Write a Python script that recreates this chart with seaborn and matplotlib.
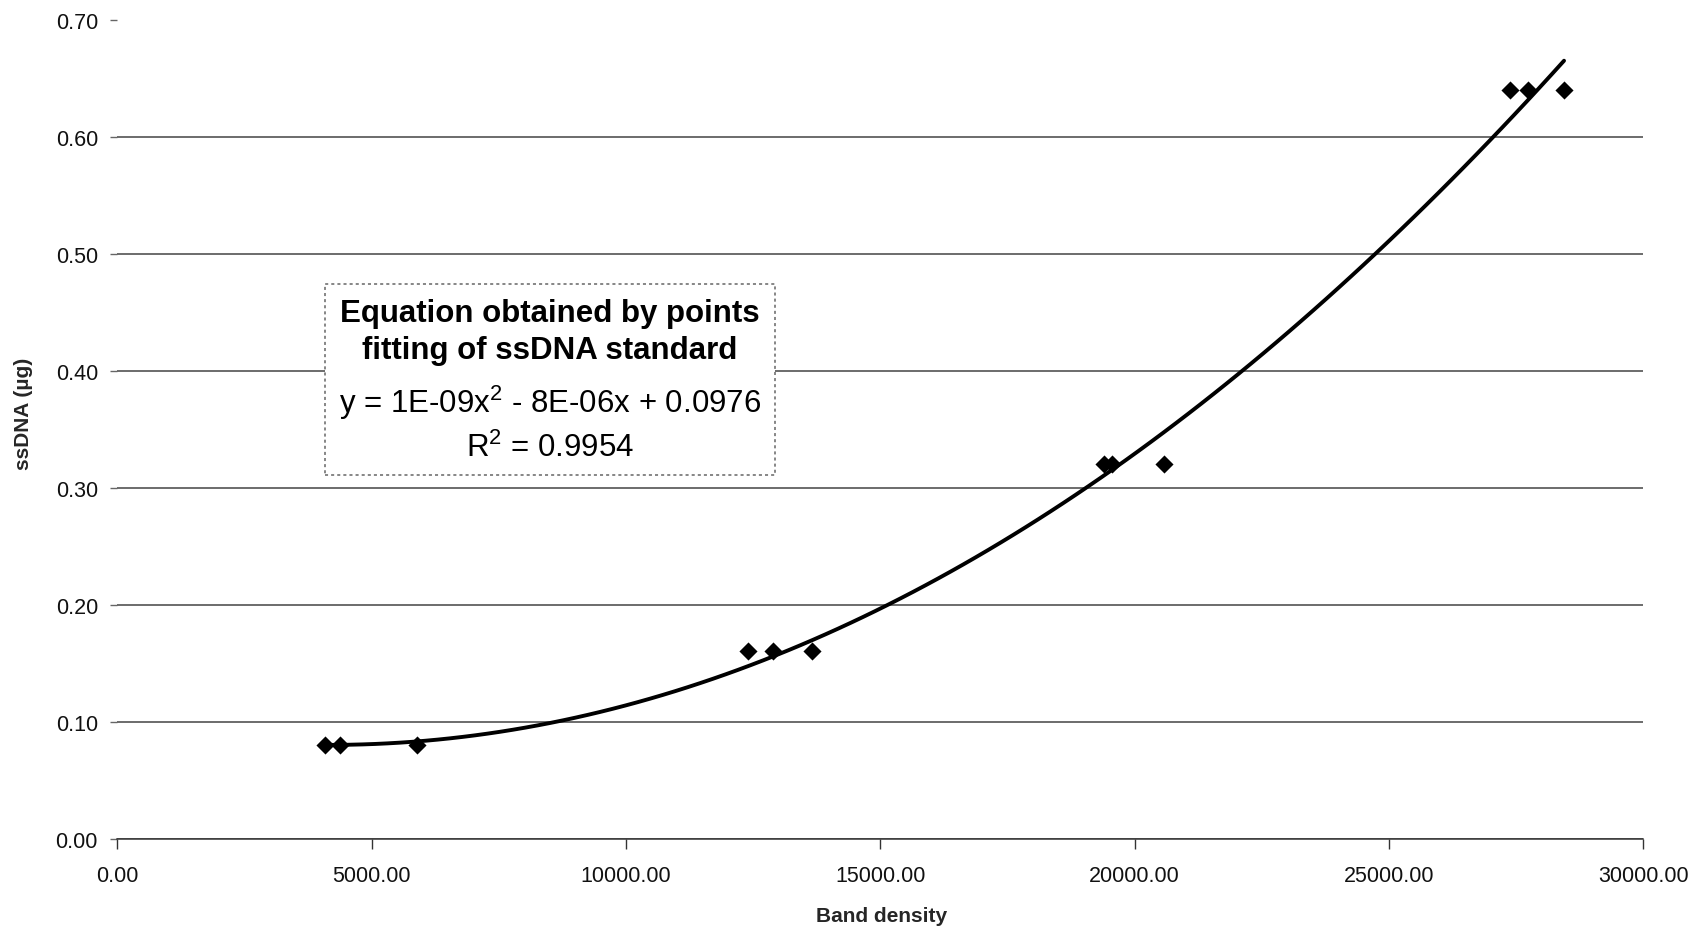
import numpy as np
import pandas as pd
import matplotlib
matplotlib.use("Agg")
import matplotlib.pyplot as plt
from matplotlib.patches import Rectangle
import seaborn as sns

# ---- data ----
band_density = [4080, 4380, 5890, 12400, 12880, 13660, 19390, 19560, 20580, 27370, 27740, 28440]
ssdna_ug = [0.08, 0.08, 0.08, 0.16, 0.16, 0.16, 0.32, 0.32, 0.32, 0.64, 0.64, 0.64]
x_ticks = [0, 5000, 10000, 15000, 20000, 25000, 30000]
y_ticks = [0.0, 0.1, 0.2, 0.3, 0.4, 0.5, 0.6, 0.7]
x_label = "Band density"
y_label = "ssDNA (µg)"
box_lines = ["Equation obtained by points", "fitting of ssDNA standard",
             "y = 1E-09x$^{2}$ - 8E-06x + 0.0976", "R$^{2}$ = 0.9954"]

df = pd.DataFrame({"x": band_density, "y": ssdna_ug})

sns.set_style("white")
plt.rcParams["font.family"] = ["Liberation Sans", "DejaVu Sans"]
plt.rcParams["mathtext.fontset"] = "custom"
plt.rcParams["mathtext.rm"] = "Liberation Sans"
plt.rcParams["mathtext.it"] = "Liberation Sans:italic"
plt.rcParams["mathtext.bf"] = "Liberation Sans:bold"

fig = plt.figure(figsize=(17.03, 9.29), dpi=100)
ax = fig.add_axes([0.0689, 0.0962, 0.8961, 0.8816])

sns.regplot(data=df, x="x", y="y", order=2, ci=None, marker="D", color="black",
            scatter_kws={"s": 85, "alpha": 1.0, "edgecolors": "black", "linewidths": 0, "zorder": 4},
            line_kws={"lw": 2.8, "color": "black", "zorder": 5}, ax=ax)

ax.set_xlim(0, 30000)
ax.set_ylim(0, 0.7)
ax.set_xticks(x_ticks)
ax.set_yticks(y_ticks)
ax.set_xticklabels([f"{v:.2f}" for v in x_ticks])
ax.set_yticklabels([f"{v:.2f}" for v in y_ticks])
ax.tick_params(axis="both", labelsize=15.5, colors="#111111")
ax.tick_params(axis="x", direction="out", length=7, width=1, pad=12, color="#333333", bottom=True)
ax.tick_params(axis="y", direction="out", length=5, width=1, pad=9, color="#666666", left=True)

ax.set_xlabel(x_label, fontsize=15, fontweight="bold")
ax.set_ylabel(y_label, fontsize=15, fontweight="bold")
ax.yaxis.set_label_coords(-0.055, 0.52)
ax.xaxis.set_label_coords(0.501, -0.082)

for s in ["top", "right", "left"]:
    ax.spines[s].set_visible(False)
ax.spines["bottom"].set_color("#333333")
ax.spines["bottom"].set_linewidth(1.1)

ax.yaxis.grid(True, color="#444444", linewidth=1.1)
ax.xaxis.grid(False)
ax.get_ygridlines()[-1].set_visible(False)
ax.set_axisbelow(True)

# annotation box
rect = Rectangle((0.136, 0.444), 0.431 - 0.136, 0.677 - 0.444, transform=ax.transAxes,
                 facecolor="white", edgecolor="#666666", linestyle=(0, (2, 2)), lw=1.1, zorder=3)
ax.add_patch(rect)
ys = [0.642, 0.597, 0.533, 0.478]
for i, (t, yy) in enumerate(zip(box_lines, ys)):
    ax.text(0.2835, yy, t, transform=ax.transAxes, ha="center", va="center",
            fontsize=22.5, fontweight="bold" if i < 2 else "normal", color="black", zorder=6)

fig.savefig("out.png", dpi=100, facecolor="white")
